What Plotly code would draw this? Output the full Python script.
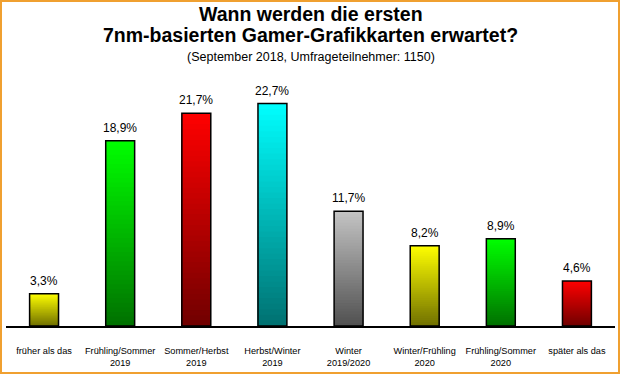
import plotly.graph_objects as go

categories = ["früher als das", "Frühling/Sommer<br>2019", "Sommer/Herbst<br>2019",
              "Herbst/Winter<br>2019", "Winter<br>2019/2020", "Winter/Frühling<br>2020",
              "Frühling/Sommer<br>2020", "später als das"]
values = [3.3, 18.9, 21.7, 22.7, 11.7, 8.2, 8.9, 4.6]
top_colors = [(255, 255, 0), (0, 255, 0), (255, 0, 0), (0, 255, 255),
              (196, 196, 196), (255, 255, 0), (0, 255, 0), (255, 0, 0)]
bottom_colors = [(112, 112, 0), (0, 112, 0), (112, 0, 0), (0, 112, 112),
                 (80, 80, 80), (112, 112, 0), (0, 112, 0), (112, 0, 0)]
title_lines = ["Wann werden die ersten", "7nm-basierten Gamer-Grafikkarten erwartet?"]
subtitle = "(September 2018, Umfrageteilnehmer: 1150)"

FONT = "Liberation Sans, Arial"
N = 40
fig = go.Figure()
xs = list(range(len(categories)))
for j in range(N, 0, -1):
    f = (j - 0.5) / N
    cols = []
    for t, b in zip(top_colors, bottom_colors):
        c = tuple(round(b[k] + (t[k] - b[k]) * f) for k in range(3))
        cols.append("rgb(%d,%d,%d)" % c)
    fig.add_trace(go.Bar(x=xs, y=[v * j / N for v in values],
                         marker=dict(color=cols, line=dict(width=0)),
                         hoverinfo="skip", showlegend=False))

labels = [("%.1f%%" % v).replace(".", ",") for v in values]
fig.add_trace(go.Bar(x=xs, y=values,
                     marker=dict(color="rgba(0,0,0,0)", line=dict(color="black", width=1.5)),
                     showlegend=False))

W, H = 620, 374
ml, mr, mt, mb = 6, 5, 81, 48
pw, ph = W - ml - mr, H - mt - mb

def py(y_px):
    return 1 + (mt - y_px) / ph

annotations = []
for x, v, lab in zip(xs, values, labels):
    annotations.append(dict(x=x, y=v, xref="x", yref="y", text=lab, showarrow=False,
                            yanchor="middle", yshift=13,
                            font=dict(size=12, family=FONT, color="black")))
annotations.append(dict(x=0.5, y=py(14), xref="paper", yref="paper", text="<b>%s</b>" % title_lines[0],
                        showarrow=False, yanchor="middle", font=dict(size=19.5, family=FONT, color="black")))
annotations.append(dict(x=0.5, y=py(35), xref="paper", yref="paper", text="<b>%s</b>" % title_lines[1],
                        showarrow=False, yanchor="middle", font=dict(size=19.5, family=FONT, color="black")))
annotations.append(dict(x=0.5, y=py(57), xref="paper", yref="paper", text=subtitle,
                        showarrow=False, yanchor="middle", font=dict(size=12.5, family=FONT, color="black")))

fig.update_layout(
    width=W, height=H, barmode="overlay", bargap=0.62,
    margin=dict(l=ml, r=mr, t=mt, b=mb),
    paper_bgcolor="white", plot_bgcolor="white",
    font=dict(family=FONT, color="black"),
    annotations=annotations,
    xaxis=dict(tickmode="array", tickvals=xs, ticktext=categories, showline=True,
               linecolor="black", linewidth=2, ticks="", showgrid=False, zeroline=False,
               range=[-0.5, len(categories) - 0.5], ticklabelstandoff=15,
               tickfont=dict(size=9.2, family=FONT, color="black")),
    yaxis=dict(range=[0, 25], visible=False, showgrid=False, zeroline=False),
    shapes=[dict(type="rect", xref="paper", yref="paper",
                 x0=(-ml + 1) / pw, x1=(pw + mr - 1) / pw,
                 y0=(-mb + 1) / ph, y1=(ph + mt - 1) / ph,
                 line=dict(color="#F0A030", width=2), fillcolor="rgba(0,0,0,0)", layer="above")],
)

fig.write_html("out.html", config={"displayModeBar": False},
               post_script="document.body.style.margin='0';document.body.style.overflow='hidden';")
